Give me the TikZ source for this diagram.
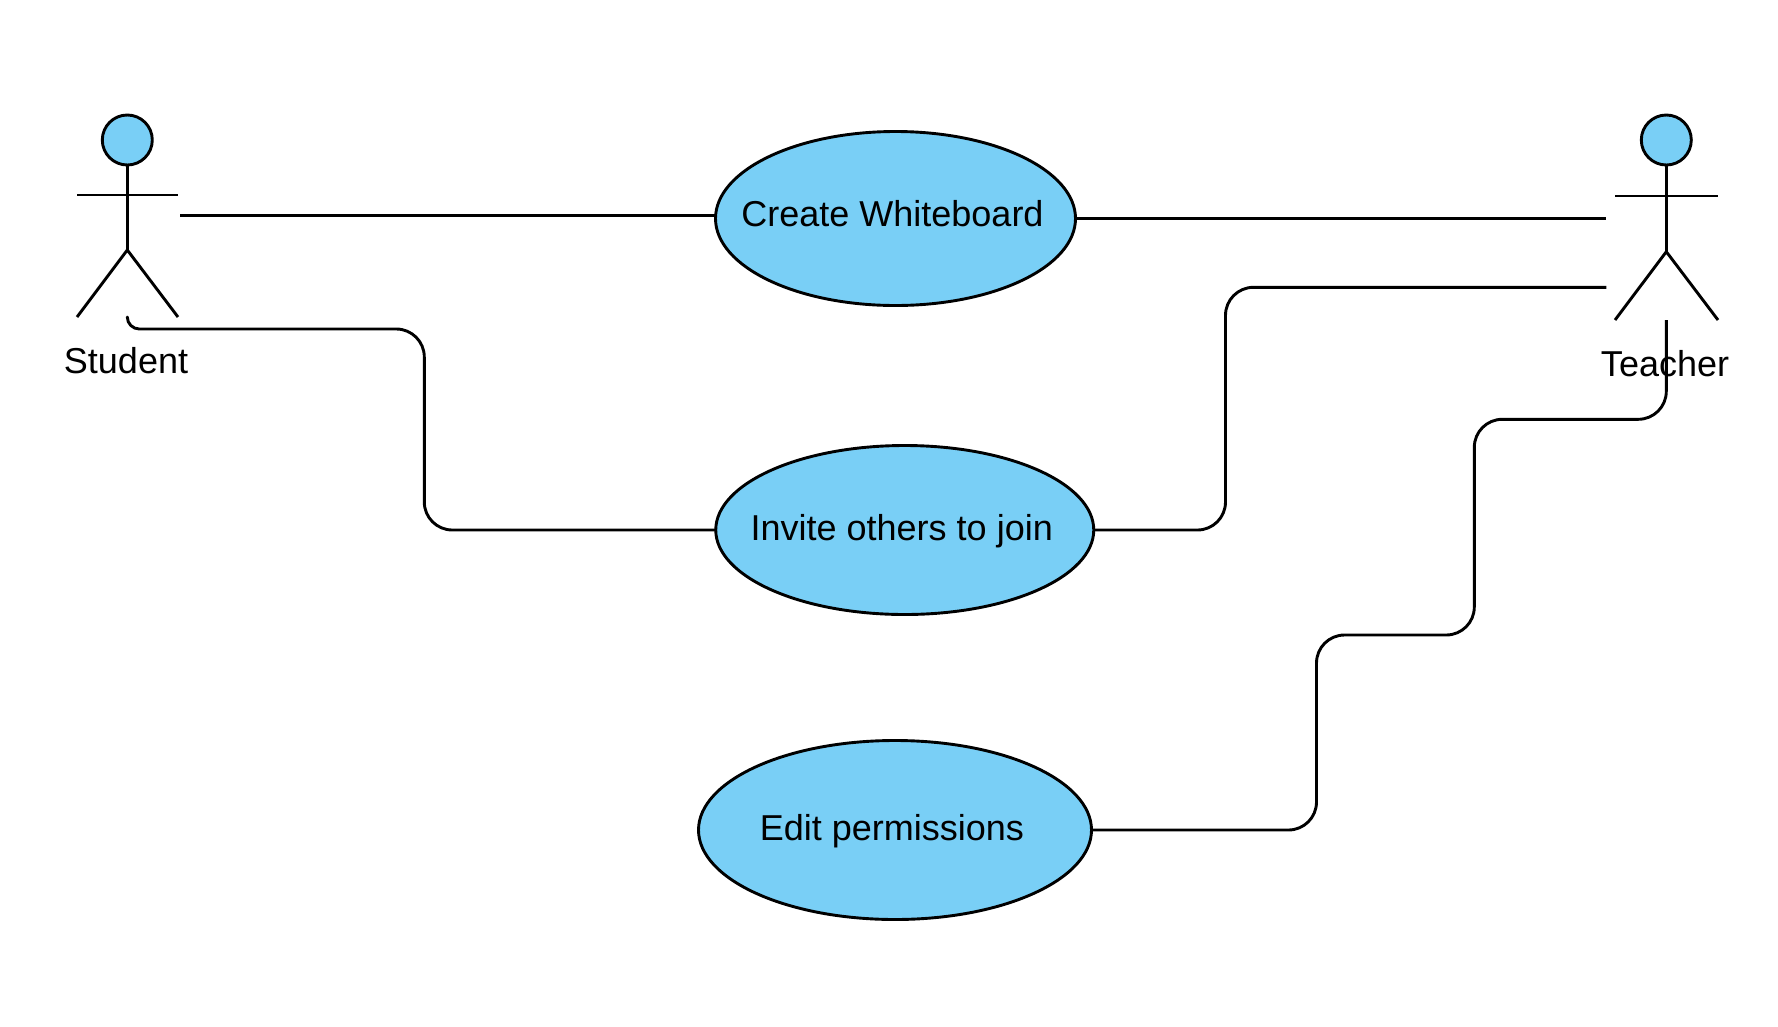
\documentclass[tikz,border=0pt]{standalone}
\usepackage{fontspec}
\setmainfont{Liberation Sans}
\usetikzlibrary{shapes.geometric}
\definecolor{fillblue}{HTML}{79CFF6}
\tikzset{
  x=1pt,y=-1pt,
  every path/.style={line width=2.9pt,line join=round},
  usecase/.style={ellipse,draw=black,fill=fillblue,inner sep=0pt,outer sep=0pt,font=\fontsize{36}{40}\selectfont},
  head/.style={circle,draw=black,fill=fillblue,inner sep=0pt,outer sep=0pt,minimum size=50pt},
  actorname/.style={inner sep=0pt,font=\fontsize{36}{40}\selectfont,text=black},
  link/.style={draw=black,rounded corners=28pt},
}
\newcommand{\casetext}[2]{\smash{\raisebox{#1}{\makebox[0pt][c]{#2\hspace*{6pt}}}}}
\begin{document}
\begin{tikzpicture}
\useasboundingbox (0,0) rectangle (1778,1026);
\fill[white] (0,0) rectangle (1778,1026);

% use cases
\node[usecase,minimum width=360pt,minimum height=174pt] (create) at (895.5,218.5) {\casetext{-8.2pt}{Create Whiteboard}};
\node[usecase,minimum width=378pt,minimum height=169pt] (invite) at (904.75,530) {\casetext{-10.7pt}{Invite others to join}};
\node[usecase,minimum width=393pt,minimum height=179pt] (edit) at (895,830) {\casetext{-10pt}{Edit permissions}};

% student
\node[head] (shead) at (127.3,140) {};
\coordinate (sarml) at (77,195);
\coordinate (sarmr) at (178,195);
\coordinate (ship) at (127.3,250);
\coordinate (slegl) at (77,317);
\coordinate (slegr) at (178,317);
\draw (shead.south) -- (ship);
\draw (sarml) -- (sarmr);
\draw (slegl) -- (ship) -- (slegr);
\node[actorname] (sname) at (126,361) {Student};

% teacher
\node[head] (thead) at (1666.3,140) {};
\coordinate (tarml) at (1615,196);
\coordinate (tarmr) at (1718,196);
\coordinate (thip) at (1666.3,251.7);
\coordinate (tlegl) at (1615,320);
\coordinate (tlegr) at (1718,320);
\draw (thead.south) -- (thip);
\draw (tarml) -- (tarmr);
\draw (tlegl) -- (thip) -- (tlegr);
\node[actorname] (tname) at (1665,364) {Teacher};

% connector free ends
\coordinate (sp1) at (180,215.3);
\coordinate (sp2) at (127.3,318);
\coordinate (tp1) at (1606.3,218.3);
\coordinate (tp2) at (1606.3,287.3);
\coordinate (tp3) at (1666.3,320);

% connectors
\draw[link] (sp1) -- (sp1 -| create.west);
\draw[link] (create.east |- tp1) -- (tp1);
\draw[link] (sp2) [rounded corners=12pt] -- (127.3,329) [rounded corners=28pt] -- (424.3,329) -- (424.3,530) -- (invite.west);
\draw[link] (invite.east) -- (1225.5,530) -- (1225.5,287.3) -- (tp2);
\draw[link] (edit.east) -- (1316.5,830) -- (1316.5,635) -- (1474.3,635) -- (1474.3,419.3) -- (1666.3,419.3) -- (tp3);
\end{tikzpicture}
\end{document}
